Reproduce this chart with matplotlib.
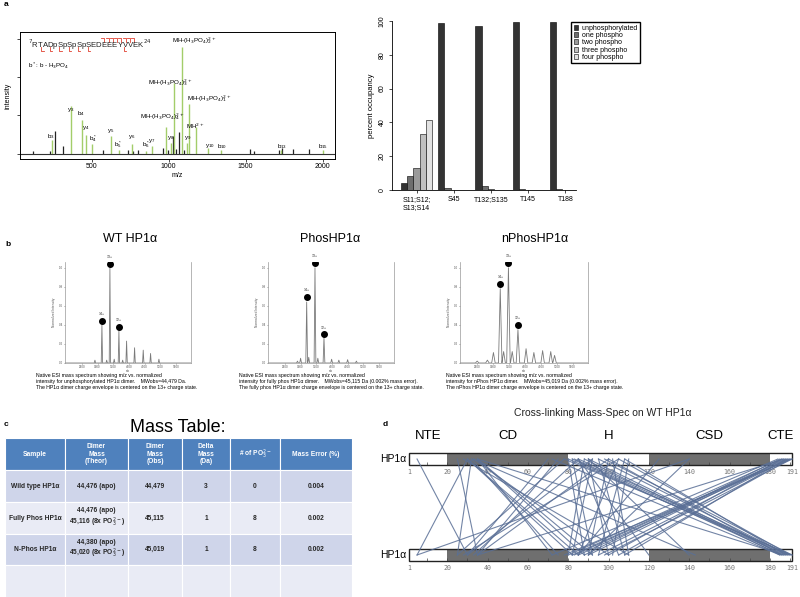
import numpy as np
import matplotlib
matplotlib.use('Agg')
import matplotlib.pyplot as plt
from matplotlib.patches import Rectangle

plt.rcParams['font.family'] = ['Liberation Sans', 'DejaVu Sans']

W, H = 800, 597

# ---- panel a, MS/MS spectrum ----
green_mz = [244, 366, 435, 462, 504, 625, 675, 759, 851, 890, 983, 1013, 1035, 1087,
            1120, 1133, 1180, 1256, 1342, 1732, 2002]
green_h = [11.5, 39, 27.4, 15.6, 8.2, 14.3, 3.3, 8.2, 2, 6, 21.7, 8.8, 58, 87.5,
           9, 41, 21.7, 4.7, 2.7, 3.3, 2.7]
black_mz = [117, 230, 262, 316, 572, 738, 770, 800, 962, 995, 1027, 1045, 1064, 1100,
            1527, 1555, 1715, 1735, 1810, 1912]
black_h = [2, 2, 18.4, 6.6, 3.3, 2.5, 2, 2.5, 4.7, 3, 14.3, 4, 17.6, 2.5,
           3.8, 2, 2.5, 4.5, 3.8, 3.8]
peak_labels = ['$\\mathregular{b_3}$', '$\\mathregular{y_3}$', '$\\mathregular{b_4}$',
               '$\\mathregular{y_4}$', '$\\mathregular{b_4^*}$', '$\\mathregular{y_5}$',
               '$\\mathregular{b_5^*}$', '$\\mathregular{y_6}$', '$\\mathregular{b_6^*}$',
               '$\\mathregular{y_7}$', 'MH-(H$_3$PO$_4$)$_4^{2+}$', '$\\mathregular{y_8}$',
               'MH-(H$_3$PO$_4$)$_3^{2+}$', 'MH-(H$_3$PO$_4$)$_2^{2+}$', '$\\mathregular{y_9}$',
               'MH-(H$_3$PO$_4$)$_1^{2+}$', 'MH$^{2+}$', '$\\mathregular{y_{10}}$',
               '$\\mathregular{b_{10}}$', '$\\mathregular{b_{13}}$', '$\\mathregular{b_{15}}$']
label_mz = [235, 366, 433, 465, 507, 625, 672, 759, 851, 893, 960, 1013, 1010, 1165,
            1125, 1265, 1170, 1270, 1345, 1735, 2000]
label_h = [13.7, 36, 33, 21, 12, 18.5, 7, 13.5, 7, 10, 30, 13, 58, 93,
           13, 45.5, 22.5, 6, 6, 6, 6]

# ---- panel a, occupancy bars ----
sites = ['S11;S12;\nS13;S14', 'S45', 'T132;S135', 'T145', 'T188']
states = ['unphosphorylated', 'one phospho', 'two phospho', 'three phospho', 'four phospho']
occupancy = [
    [4, 99, 97, 99.5, 99.5],      # unphosphorylated
    [8.5, 1, 2.5, 0.5, 0.5],      # one phospho
    [13, 0, 0.5, 0, 0],           # two phospho
    [33, 0, 0, 0, 0],             # three phospho
    [41.5, 0, 0, 0, 0],           # four phospho
]
state_colors = ['#333333', '#6e6e6e', '#9a9a9a', '#c0c0c0', '#e2e2e2']

# ---- panel b, native ESI spectra (m/z, normalized intensity) ----
wt_mz = [2915, 3138, 3290, 3393, 3530, 3680, 3800, 3925, 4180, 4456, 4690, 4956]
wt_h = [0.03, 0.40, 0.03, 1.0, 0.04, 0.34, 0.03, 0.23, 0.16, 0.135, 0.10, 0.04]
phos_mz = [2900, 3000, 3194, 3260, 3459, 3550, 3746, 3990, 4220, 4500, 4780]
phos_h = [0.02, 0.05, 0.64, 0.06, 1.0, 0.05, 0.27, 0.04, 0.03, 0.035, 0.02]
nphos_mz = [2500, 2820, 3010, 3224, 3330, 3481, 3600, 3780, 4035, 4280, 4555, 4810, 4930]
nphos_h = [0.02, 0.03, 0.11, 0.78, 0.12, 1.0, 0.12, 0.35, 0.15, 0.11, 0.13, 0.12, 0.08]
wt_dots = ([3138, 3393, 3680], [0.44, 1.04, 0.38], ['14+', '13+', '12+'])
phos_dots = ([3194, 3459, 3746], [0.69, 1.05, 0.30], ['14+', '13+', '12+'])
nphos_dots = ([3224, 3481, 3775], [0.83, 1.05, 0.40], ['14+', '13+', '12+'])

# ---- panel c, table ----
col_labels = ['Sample', 'Dimer\nMass\n(Theor)', 'Dimer\nMass\n(Obs)', 'Delta\nMass\n(Da)',
              '# of PO$_3^{2-}$', 'Mass Error (%)']
table_rows = [
    ['Wild type HP1α', '44,476 (apo)', '44,479', '3', '0', '0.004'],
    ['Fully Phos HP1α', '44,476 (apo)\n45,116 (8x PO$_3^{2-}$)', '45,115', '1', '8', '0.002'],
    ['N-Phos HP1α', '44,380 (apo)\n45,020 (8x PO$_3^{2-}$)', '45,019', '1', '8', '0.002'],
    ['', '', '', '', '', ''],
]

# ---- panel d, crosslinks (top residue, bottom residue) ----
domain_names = ['NTE', 'CD', 'H', 'CSD', 'CTE']
domain_start = [1, 20, 80, 120, 180]
domain_end = [20, 80, 120, 180, 191]
domain_shaded = [False, True, False, True, False]
residue_ticks = [1, 20, 40, 60, 80, 100, 120, 140, 160, 180, 191]
links = [
    (5, 30), (30, 5), (140, 5), (25, 35), (32, 25), (33, 143), (30, 82), (35, 88),
    (33, 100), (28, 110), (70, 30), (75, 35), (78, 25), (32, 75), (35, 72),
    (80, 88), (88, 80), (90, 100), (100, 90), (85, 105), (105, 85), (95, 108),
    (108, 95), (82, 92), (92, 82), (102, 110), (110, 102),
    (80, 188), (82, 186), (85, 190), (88, 185), (90, 187), (95, 189), (100, 186),
    (105, 190), (108, 188), (78, 191), (35, 187), (72, 185), (83, 189), (98, 191),
    (186, 80), (188, 82), (190, 85), (185, 88), (187, 90), (189, 95), (186, 100),
    (190, 105), (188, 108), (191, 78), (187, 35), (184, 72), (189, 83), (191, 98),
    (85, 33), (92, 30), (100, 35), (105, 28), (85, 120), (125, 85), (140, 90),
    (90, 140), (30, 85), (35, 92),
]


fig = plt.figure(figsize=(8, 5.97), dpi=100)


def px_axes(x0, y0, x1, y1):
    return fig.add_axes([x0 / W, 1 - y1 / H, (x1 - x0) / W, (y1 - y0) / H])


def ftext(x, y, s, **kw):
    fig.text(x / W, 1 - y / H, s, **kw)


for lab, (x, y) in zip('abcd', [(4, 4), (5, 245), (4, 425), (383, 425)]):
    ftext(x, y, lab, fontsize=6, fontweight='bold', va='center')

# ---------- a: spectrum ----------
ax = px_axes(20, 32, 335, 159)
ax.vlines(black_mz, 0, black_h, color='#222222', lw=0.9)
ax.vlines(green_mz, 0, green_h, color='#a3cd6a', lw=1.0)
ax.axhline(0, color='#333333', lw=0.8)
ax.set_xlim(35, 2080)
ax.set_ylim(-4.5, 100)
ax.set_xticks([500, 1000, 1500, 2000])
ax.set_yticks([0, 31.5, 63, 94.5])
ax.set_yticklabels([])
ax.tick_params(labelsize=5, length=2, width=0.5, pad=1)
ax.set_xlabel('m/z', fontsize=5, labelpad=1)
ax.set_ylabel('intensity', fontsize=5, labelpad=3)
for sp in ax.spines.values():
    sp.set_linewidth(0.7)
for s, m, h in zip(peak_labels, label_mz, label_h):
    ax.text(m, h, s, fontsize=4.5, ha='center', va='center')
ax.text(0.025, 0.9, '$^7$RTADpSpSpSpSEDEEEYVVEK$^{24}$', transform=ax.transAxes,
        fontsize=5.6, va='center', color='#222222')
ax.text(0.025, 0.73, 'b$^*$: b - H$_3$PO$_4$', transform=ax.transAxes, fontsize=4.5,
        va='center')
# red fragment brackets over the sequence
for xf in np.arange(0.258, 0.355, 0.0135):
    ax.plot([xf, xf + 0.010, xf + 0.010], [0.955, 0.955, 0.925], color='#e04030',
            lw=0.6, transform=ax.transAxes)
for xf in [0.068, 0.095, 0.125, 0.155, 0.185, 0.215, 0.33]:
    ax.plot([xf, xf, xf + 0.007], [0.88, 0.85, 0.85], color='#e04030',
            lw=0.6, transform=ax.transAxes)

# ---------- a: occupancy bars ----------
axb = px_axes(392, 21, 576, 190)
for j in range(5):
    xs = [6 * g + 1 + j + 0.5 for g in range(5)]
    axb.bar(xs, occupancy[j], width=1, color=state_colors[j], edgecolor='black',
            lw=0.4, label=states[j])
axb.set_xlim(-0.45, 29.2)
axb.set_ylim(0, 100)
axb.set_yticks(range(0, 101, 20))
axb.set_yticklabels([str(v) for v in range(0, 101, 20)], rotation=90, va='center')
axb.set_xticks([6 * g + 3.5 for g in range(5)])
axb.set_xticklabels(sites, multialignment='left')
axb.tick_params(labelsize=5, length=2.5, width=0.5, pad=2)
axb.set_ylabel('percent occupancy', fontsize=5.5, labelpad=3)
axb.spines['top'].set_visible(False)
axb.spines['right'].set_visible(False)
axb.spines['left'].set_linewidth(0.6)
axb.spines['bottom'].set_linewidth(0.6)
axb.legend(loc='upper left', bbox_to_anchor=(568 / W, 1 - 19 / H),
           bbox_transform=fig.transFigure, fontsize=5, handlelength=0.7,
           handleheight=0.7, borderpad=0.3, labelspacing=0.05, handletextpad=0.5,
           fancybox=False, edgecolor='black', framealpha=1)


# ---------- b: native spectra ----------
def native_spectrum(x0, x1, mz, h, width, dots, title, title_x, caption, cap_x):
    axs = px_axes(x0, 262, x1, 363)
    xs, ys = [1960], [0]
    for m, v in sorted(zip(mz, h)):
        xs += [m - width, m, m + width]
        ys += [0, v, 0]
    xs.append(5980)
    ys.append(0)
    axs.plot(xs, ys, color='#7a7a7a', lw=0.6)
    axs.plot(dots[0], dots[1], 'o', color='black', ms=4)
    for m, v, s in zip(*dots):
        axs.text(m, v + 0.05, s, fontsize=2.5, ha='center', va='bottom', color='#333333')
    axs.set_xlim(1960, 5980)
    axs.set_ylim(0, 1.06)
    axs.set_xticks(range(2500, 5600, 500))
    axs.set_yticks([0, 0.2, 0.4, 0.6, 0.8, 1.0])
    axs.set_yticklabels(['0.0', '0.2', '0.4', '0.6', '0.8', '1.0'])
    axs.tick_params(labelsize=2.2, length=1.0, width=0.4, pad=0.5, colors='#555555')
    axs.set_ylabel('Normalized Intensity', fontsize=2.3, labelpad=2, color='#555555')
    axs.set_xlabel('m/z', fontsize=1.8, labelpad=0, color='#555555')
    axs.spines['top'].set_visible(False)
    for sp in ['left', 'right', 'bottom']:
        axs.spines[sp].set_linewidth(0.5)
        axs.spines[sp].set_color('#999999')
    ftext(title_x, 239, title, fontsize=9, ha='center', va='center')
    ftext(cap_x, 372.5, caption, fontsize=3.7, va='top', linespacing=1.25)


native_spectrum(65, 191, wt_mz, wt_h, 22, wt_dots, 'WT HP1α', 130,
                'Native ESI mass spectrum showing m/z vs. normalized\n'
                'intensity for unphosphorylated HP1α dimer.    MWobs=44,479 Da.\n'
                'The HP1α dimer charge envelope is centered on the 13+ charge state.', 36)
native_spectrum(268, 394, phos_mz, phos_h, 28, phos_dots, 'PhosHP1α', 330,
                'Native ESI mass spectrum showing m/z vs. normalized\n'
                'intensity for fully phos HP1α dimer.    MWobs=45,115 Da (0.002% mass error).\n'
                'The fully phos HP1α dimer charge envelope is centered on the 13+ charge state.', 239)
native_spectrum(460, 588, nphos_mz, nphos_h, 55, nphos_dots, 'nPhosHP1α', 535,
                'Native ESI mass spectrum showing m/z vs. normalized\n'
                'intensity for nPhos HP1α dimer.    MWobs=45,019 Da (0.002% mass error).\n'
                'The nPhos HP1α dimer charge envelope is centered on the 13+ charge state.', 446)

# ---------- c: mass table ----------
ftext(178, 428, 'Mass Table:', fontsize=13, ha='center', va='center')
axt = px_axes(5, 438, 352, 597)
axt.set_xlim(5, 352)
axt.set_ylim(597, 438)
axt.axis('off')
col_x = [5, 65, 128, 182, 230, 280, 352]
row_y = [438, 470, 502, 534, 565, 597]
row_colors = ['#4f81bd', '#cfd5ea', '#e9ebf5', '#cfd5ea', '#e9ebf5']
all_rows = [col_labels] + table_rows
for r, cells in enumerate(all_rows):
    for c, s in enumerate(cells):
        axt.add_patch(Rectangle((col_x[c], row_y[r]), col_x[c + 1] - col_x[c],
                                row_y[r + 1] - row_y[r], facecolor=row_colors[r],
                                edgecolor='white', lw=0.8))
        axt.text((col_x[c] + col_x[c + 1]) / 2, (row_y[r] + row_y[r + 1]) / 2, s,
                 ha='center', va='center', fontsize=4.8, fontweight='bold',
                 color='white' if r == 0 else '#262626', linespacing=1.15)

# ---------- d: crosslinks ----------
ftext(603, 413, 'Cross-linking Mass-Spec on WT HP1α', fontsize=7.5, ha='center',
      va='center', color='#222222')
axd = px_axes(400, 440, 798, 580)
axd.set_xlim(-3.46, 193.98)
axd.set_ylim(580, 440)
axd.axis('off')
for y0 in [453, 549]:
    axd.add_patch(Rectangle((1, y0), 190, 12, facecolor='white', edgecolor='none'))
    for s0, s1, sh in zip(domain_start, domain_end, domain_shaded):
        if sh:
            axd.add_patch(Rectangle((s0, y0), s1 - s0, 12, facecolor='#6f6f6f',
                                    edgecolor='none'))
    axd.vlines(range(10, 191, 10), y0 + 9, y0 + 12, color='#444444', lw=0.5)
    axd.add_patch(Rectangle((1, y0), 190, 12, facecolor='none', edgecolor='#222222',
                            lw=1.0, zorder=4))
    for t in residue_ticks:
        axd.text(t, y0 + 19, str(t), fontsize=4.8, ha='center', va='center',
                 family='DejaVu Sans Mono', color='#777777')
for a, b in links:
    axd.plot([a, b], [459, 555], color='#5a6f96', lw=0.8, alpha=0.85, zorder=5)
for name, s0, s1 in zip(domain_names, domain_start, domain_end):
    axd.text((s0 + s1) / 2, 436, name, fontsize=9.5, ha='center', va='center')
ftext(406, 459, 'HP1α', fontsize=7.5, ha='right', va='center')
ftext(406, 555, 'HP1α', fontsize=7.5, ha='right', va='center')

fig.savefig('out.png', dpi=100)
